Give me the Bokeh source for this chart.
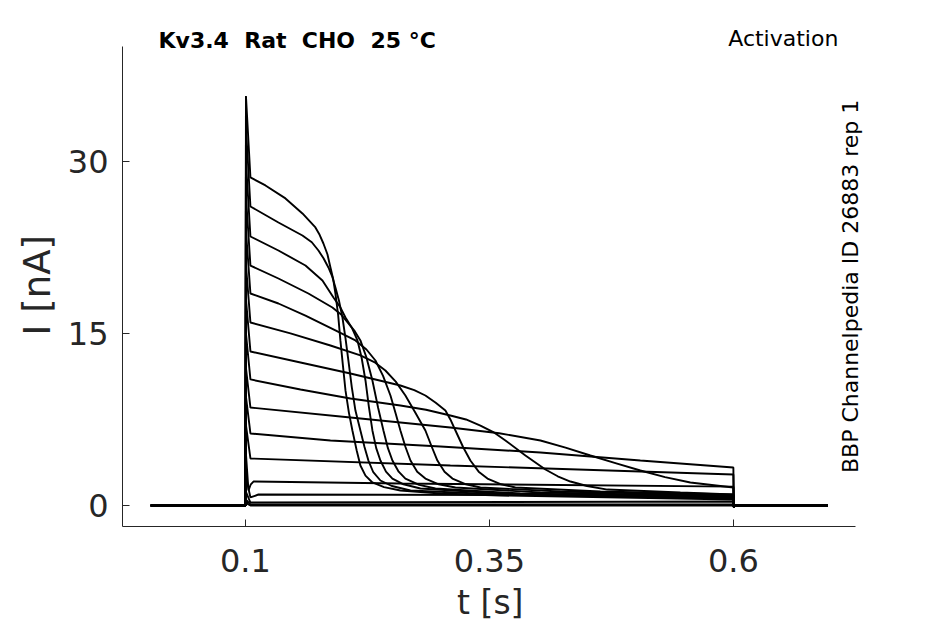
import math

from bokeh.embed import file_html
from bokeh.models import Label
from bokeh.plotting import figure
from bokeh.resources import INLINE

# protocol times [s]
t_start = 0.003
t_on = 0.1
t_off = 0.6
t_end = 0.697

# capacitive spike at step onset [nA], one per sweep
spikes = [35.7, 33.0, 30.0, 27.0, 24.0, 21.0, 18.0, 15.0, 12.0, 9.5, 7.0, 4.5, 2.5, 1.2, 0.5, 0.2]

# sweeps: (t [s], I [nA]) during the step
sweep_01 = [(0.1051, 28.60), (0.1205, 27.90), (0.1410, 26.77), (0.1584, 25.46), (0.1717, 24.24),
            (0.1760, 23.60), (0.1799, 22.84), (0.1840, 21.90), (0.1871, 20.75), (0.1900, 19.70),
            (0.1922, 18.48), (0.1950, 16.60), (0.1973, 14.39), (0.2000, 12.10), (0.2025, 10.03),
            (0.2060, 8.10), (0.2096, 6.54), (0.2140, 4.80), (0.2178, 3.49), (0.2230, 2.60),
            (0.2301, 2.01), (0.2420, 1.60), (0.2588, 1.31), (0.3000, 1.05), (0.3613, 0.87), (0.6, 0.52)]
sweep_02 = [(0.1051, 26.07), (0.1338, 24.67), (0.1584, 23.54), (0.1680, 22.95), (0.1748, 22.23),
            (0.1800, 21.55), (0.1850, 20.75), (0.1890, 19.95), (0.1922, 19.01), (0.1960, 17.80),
            (0.1994, 16.39), (0.2025, 14.60), (0.2055, 12.64), (0.2090, 10.30), (0.2127, 8.28),
            (0.2178, 6.54), (0.2220, 5.10), (0.2260, 3.92), (0.2310, 2.90), (0.2383, 2.18),
            (0.2500, 1.70), (0.2691, 1.31), (0.3613, 0.96), (0.6, 0.61)]
sweep_03 = [(0.1051, 23.45), (0.1338, 22.23), (0.1615, 20.92), (0.1789, 19.62), (0.1902, 18.13),
            (0.1970, 17.30), (0.2025, 16.39), (0.2090, 15.50), (0.2148, 14.39), (0.2190, 12.90),
            (0.2230, 10.90), (0.2265, 8.60), (0.2301, 6.54), (0.2340, 5.00), (0.2383, 3.92),
            (0.2440, 2.95), (0.2506, 2.35), (0.2620, 1.85), (0.2793, 1.48), (0.3613, 1.05), (0.6, 0.61)]
sweep_04 = [(0.1051, 20.92), (0.1338, 19.79), (0.1645, 18.48), (0.1891, 17.26), (0.1980, 16.65),
            (0.2055, 15.87), (0.2120, 15.20), (0.2178, 14.39), (0.2240, 12.90), (0.2301, 10.90),
            (0.2360, 8.50), (0.2414, 6.54), (0.2460, 5.00), (0.2506, 3.92), (0.2570, 2.95),
            (0.2639, 2.35), (0.2780, 1.80), (0.2947, 1.48), (0.3818, 1.05), (0.6, 0.70)]
sweep_05 = [(0.1051, 18.48), (0.1338, 17.61), (0.1615, 16.56), (0.1922, 15.26), (0.2127, 14.39),
            (0.2240, 13.60), (0.2332, 12.64), (0.2410, 11.30), (0.2486, 9.59), (0.2540, 8.00),
            (0.2588, 6.54), (0.2640, 5.10), (0.2691, 3.92), (0.2760, 2.95), (0.2844, 2.35),
            (0.2980, 1.85), (0.3152, 1.57), (0.4023, 1.13), (0.6, 0.78)]
sweep_06 = [(0.1051, 15.95), (0.1461, 15.00), (0.1871, 13.95), (0.2178, 13.08), (0.2320, 12.50),
            (0.2434, 11.77), (0.2540, 10.80), (0.2639, 9.59), (0.2740, 8.10), (0.2844, 6.54),
            (0.2910, 5.10), (0.2967, 3.92), (0.3040, 2.95), (0.3121, 2.35), (0.3260, 1.85),
            (0.3408, 1.57), (0.4227, 1.22), (0.6, 0.87)]
sweep_07 = [(0.1051, 13.43), (0.1564, 12.47), (0.2076, 11.51), (0.2588, 10.46), (0.2730, 10.05),
            (0.2844, 9.59), (0.2950, 8.95), (0.3049, 8.28), (0.3100, 7.50), (0.3152, 6.54),
            (0.3230, 5.10), (0.3305, 3.92), (0.3390, 2.95), (0.3480, 2.35), (0.3620, 1.85),
            (0.3766, 1.57), (0.4637, 1.22), (0.6, 0.96)]
sweep_08 = [(0.1051, 10.99), (0.1564, 10.11), (0.2076, 9.33), (0.2588, 8.72), (0.2850, 8.35),
            (0.3100, 7.85), (0.3260, 7.50), (0.3408, 6.97), (0.3540, 6.40), (0.3664, 5.67),
            (0.3869, 4.36), (0.4074, 3.14), (0.4200, 2.55), (0.4330, 2.09), (0.4500, 1.70),
            (0.4709, 1.39), (0.5457, 1.13), (0.6, 0.96)]
sweep_09 = [(0.1051, 8.54), (0.2076, 7.67), (0.3100, 6.80), (0.3600, 6.30), (0.4023, 5.67),
            (0.4280, 5.05), (0.4535, 4.36), (0.4800, 3.68), (0.5047, 3.05), (0.5300, 2.48),
            (0.5559, 2.01), (0.6, 1.57)]
sweep_10 = [(0.1051, 6.28), (0.1871, 5.67), (0.2998, 5.14), (0.4023, 4.62), (0.5047, 3.92), (0.6, 3.31)]
sweep_11 = [(0.1051, 4.10), (0.3100, 3.49), (0.6, 2.70)]
sweep_12 = [(0.1031, 1.31), (0.1055, 1.85), (0.1082, 2.09), (0.2588, 1.92), (0.6, 1.65)]
sweep_13 = [(0.1051, 0.70), (0.1133, 0.96), (0.6, 0.87)]
sweep_14 = [(0.1051, 0.26), (0.6, 0.35)]
sweep_15 = [(0.1051, 0.09), (0.6, 0.10)]
sweep_16 = [(0.1051, 0.00), (0.6, 0.00)]

sweeps = [sweep_01, sweep_02, sweep_03, sweep_04, sweep_05, sweep_06, sweep_07, sweep_08,
          sweep_09, sweep_10, sweep_11, sweep_12, sweep_13, sweep_14, sweep_15, sweep_16]
tail_dip = -0.15

x_ticks = [0.1, 0.35, 0.6]
y_ticks = [0, 15, 30]

FONT = "DejaVu Sans"
DARK = "#262626"
nb = "\u00a0"

p = figure(frame_width=767, frame_height=506, x_range=(-0.026, 0.76), y_range=(-1.83, 42.28),
           output_backend="svg", toolbar_location=None,
           min_border_left=122, min_border_top=20, min_border_right=30, min_border_bottom=70)
p.outline_line_color = None
p.grid.grid_line_color = None

for sweep, spike in zip(sweeps, spikes):
    ts = [t_start, t_on, t_on + 0.0005] + [s[0] for s in sweep] + [t_off + 0.0005, t_off + 0.002, t_end]
    cur = [0, 0, spike] + [s[1] for s in sweep] + [tail_dip, 0, 0]
    p.line(ts, cur, line_color="black", line_width=1.9)

for ax in (p.xaxis, p.yaxis):
    ax.axis_line_color = DARK
    ax.major_tick_line_color = DARK
    ax.major_tick_in = 7
    ax.major_tick_out = 0
    ax.minor_tick_line_color = None
    ax.major_label_text_font = FONT
    ax.major_label_text_font_size = "32px"
    ax.major_label_text_color = DARK
    ax.axis_label_text_font = FONT
    ax.axis_label_text_font_style = "normal"
    ax.axis_label_text_color = DARK

# the frame runs past the axis ends (room for the notes), so pad the labels to recentre them
p.xaxis.ticker = x_ticks
p.xaxis.major_label_overrides = {v: str(v) for v in x_ticks}
p.xaxis.axis_label = "t [s]" + nb * 3
p.xaxis.axis_label_text_font_size = "33px"
p.xaxis.major_label_standoff = 22
p.xaxis.axis_label_standoff = 8
p.xaxis.bounds = (-0.026, 0.725)

p.yaxis.ticker = y_ticks
p.yaxis.axis_label = "I [nA]" + nb * 2
p.yaxis.axis_label_text_font_size = "37px"
p.yaxis.major_label_standoff = 14
p.yaxis.axis_label_standoff = 6
p.yaxis.bounds = (-1.83, 40.0)

p.add_layout(Label(x=0.0109, y=40.54, text=f"Kv3.4{nb}{nb}Rat{nb}{nb}CHO{nb}{nb}25{nb}°C", text_font=FONT,
                   text_font_size="22px", text_font_style="bold", text_color="black",
                   text_baseline="middle"))
p.add_layout(Label(x=0.7076, y=40.7, text="Activation", text_font=FONT,
                   text_font_size="22px", text_color="black",
                   text_align="right", text_baseline="middle"))
p.add_layout(Label(x=0.7199, y=19.1, text="BBP Channelpedia ID 26883 rep 1", text_font=FONT,
                   text_font_size="22px", text_color="black", angle=math.pi / 2,
                   text_align="center", text_baseline="middle"))

open("out.html", "w").write(file_html(p, INLINE))
